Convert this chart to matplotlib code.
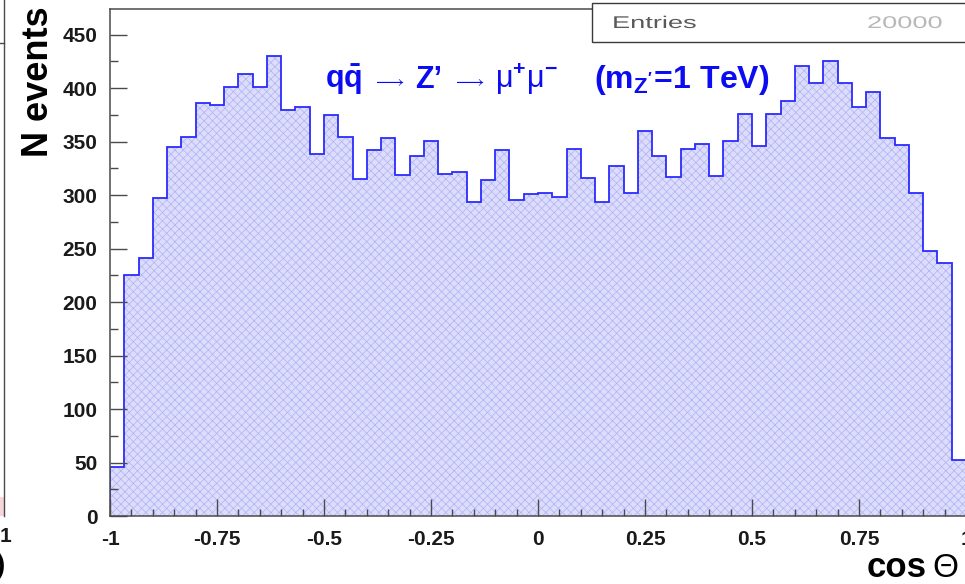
import numpy as np
import matplotlib
matplotlib.use("Agg")
import matplotlib.pyplot as plt
from matplotlib.patches import Rectangle, PathPatch
from matplotlib.lines import Line2D
from matplotlib.textpath import TextPath
from matplotlib.font_manager import FontProperties
from matplotlib.transforms import Affine2D
from matplotlib.ticker import MultipleLocator, FuncFormatter

# ----------------------------------------------------------------------
# cos(theta) distribution for q qbar -> Z' -> mu+ mu-, 60 bins in [-1, 1]
# ----------------------------------------------------------------------
cos_range = (-1.0, 1.0)
n_bins = 60
counts = [
    46, 225, 241, 297, 345, 354, 386, 384, 401, 413,
    401, 430, 380, 382, 338, 375, 354, 315, 342, 353,
    319, 337, 351, 320, 322, 294, 314, 342, 295, 301,
    302, 298, 343, 316, 294, 327, 302, 360, 337, 317,
    343, 348, 318, 351, 376, 346, 376, 388, 421, 405,
    425, 405, 382, 396, 353, 347, 302, 248, 237, 52,
]
x_ticks = [-1, -0.75, -0.5, -0.25, 0, 0.25, 0.5, 0.75, 1]
y_ticks = [0, 50, 100, 150, 200, 250, 300, 350, 400, 450]
entries = 20000

plt.rcParams["font.family"] = ["Liberation Sans", "DejaVu Sans"]
plt.rcParams["mathtext.fontset"] = "custom"
plt.rcParams["mathtext.rm"] = "Liberation Sans"
plt.rcParams["mathtext.bf"] = "Liberation Sans:bold"
plt.rcParams["mathtext.it"] = "Liberation Sans:italic"
plt.rcParams["hatch.linewidth"] = 0.5

W, H = 965, 584
fig = plt.figure(figsize=(W / 100, H / 100), dpi=100, facecolor="white")


def fx(px):
    return px / W


def fy(py):
    return 1 - py / H


def stretched_text(s, x, y_base, size, sx, color, zorder=6):
    """Draw text as a path, widened by sx (ROOT stats-box font look)."""
    tp = TextPath((0, 0), s, size=size, prop=FontProperties(family="Liberation Sans"))
    tr = Affine2D().scale(sx / W, 1 / H).translate(fx(x), fy(y_base)) + fig.transFigure
    fig.add_artist(PathPatch(tp, transform=tr, facecolor=color, edgecolor="none",
                             zorder=zorder))


ax = fig.add_axes([fx(110), fy(516), fx(856), (516 - 9) / H])

edges = np.linspace(cos_range[0], cos_range[1], n_bins + 1)
ax.stairs(counts, edges, fill=True, facecolor="#dcdcfc", edgecolor="#b2b2f3",
          hatch="xxxx", linewidth=0)
ax.stairs(counts, edges, color="#2b2bff", linewidth=1.3, baseline=0)

ax.set_xlim(*cos_range)
ax.set_ylim(0, 474)

ax.xaxis.set_minor_locator(MultipleLocator(0.05))
ax.yaxis.set_minor_locator(MultipleLocator(25))
ax.set_xticks(x_ticks)
ax.set_yticks(y_ticks)
ax.xaxis.set_major_formatter(FuncFormatter(lambda v, _: f"{v:g}"))

spine_col = "#4a4a4a"
for side in ("left", "bottom", "top", "right"):
    ax.spines[side].set_color(spine_col)
    ax.spines[side].set_linewidth(1.1)

ax.tick_params(axis="both", which="both", direction="in", color=spine_col,
               width=1.0, top=False, right=False)
ax.tick_params(axis="x", which="major", length=12, pad=10)
ax.tick_params(axis="x", which="minor", length=5)
ax.tick_params(axis="y", which="major", length=12, pad=9)
ax.tick_params(axis="y", which="minor", length=6)
for lab in ax.get_xticklabels() + ax.get_yticklabels():
    lab.set_fontweight("bold")
    lab.set_fontsize(15)
    lab.set_color("#1a1a1a")

# axis titles in ROOT placement
fig.text(fx(38), fy(82), "N events", rotation=90, ha="center", va="center",
         fontsize=26, fontweight="bold", color="black")
fig.text(fx(867), fy(577), "cos", ha="left", va="baseline",
         fontsize=25, fontweight="bold", color="black")
fig.text(fx(932), fy(577), "\u0398", ha="left", va="baseline",
         fontsize=24, color="black")

# process label, piece by piece
title_col = "#0c0cf2"
title_y = fy(88)
fig.text(fx(325), title_y, r"$\mathbf{q\bar{q}}$", ha="left", va="baseline",
         fontsize=22, color=title_col)
fig.text(fx(373), fy(86), r"$\longrightarrow$", ha="left", va="baseline",
         fontsize=13, color=title_col)
fig.text(fx(415), title_y, "Z\u2019", ha="left", va="baseline", fontsize=22,
         fontweight="bold", color=title_col)
fig.text(fx(453), fy(86), r"$\longrightarrow$", ha="left", va="baseline",
         fontsize=13, color=title_col)
fig.text(fx(495), title_y, r"$\mathrm{\mu}^{\mathbf{+}}\mathrm{\mu}^{\mathbf{-}}$",
         ha="left", va="baseline", fontsize=22, color=title_col)
fig.text(fx(594), title_y, r"$\mathbf{(m_{Z'}\!=\!1\ TeV)}$",
         ha="left", va="baseline", fontsize=23, color=title_col)

# stats box
fig.add_artist(Rectangle((fx(592), fy(42)), fx(400), (42 - 3) / H,
                         transform=fig.transFigure, facecolor="white",
                         edgecolor="#3a3a3a", linewidth=1.0, zorder=5))
stretched_text("Entries", 612, 28, 17, 1.6, "#5a5a5a")
stretched_text(f"{entries}", 867, 28, 17, 1.6, "#b8b8b8")

# edge of the neighbouring pad
fig.add_artist(Line2D([fx(3.5), fx(3.5)], [fy(0), fy(516)],
                      transform=fig.transFigure, color=spine_col, linewidth=1.0))
fig.add_artist(Line2D([fx(0), fx(3.5)], [fy(43), fy(43)],
                      transform=fig.transFigure, color=spine_col, linewidth=1.0))
fig.add_artist(Rectangle((0, fy(516)), fx(3.5), 19 / H, transform=fig.transFigure,
                         facecolor="#f6d6d6", edgecolor="none"))
fig.text(fx(11), fy(537), "1", ha="right", va="center", fontsize=15,
         fontweight="bold", color="#1a1a1a")
fig.text(fx(-4), fy(566), ")", ha="left", va="center", fontsize=20,
         fontweight="bold", color="black")

fig.savefig("out.png", dpi=100, facecolor="white")
